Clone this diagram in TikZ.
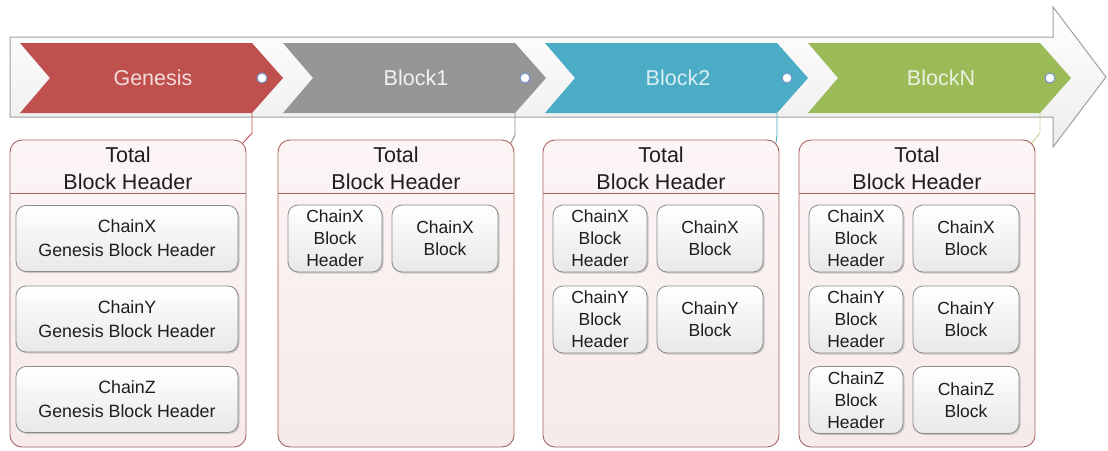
\documentclass[tikz,border=0pt]{standalone}
\usepackage{fontspec}
\setmainfont{Liberation Sans}
\usetikzlibrary{shadows}
\definecolor{cRed}{HTML}{C0504D}
\definecolor{cGray}{HTML}{969696}
\definecolor{cTeal}{HTML}{4BACC6}
\definecolor{cGreen}{HTML}{9BBB59}
\definecolor{tRed}{HTML}{F2DCDB}
\definecolor{tGray}{HTML}{F2F2F2}
\definecolor{tTeal}{HTML}{DAEEF3}
\definecolor{tGreen}{HTML}{EBF1DE}
\definecolor{lRed}{HTML}{C0504D}
\definecolor{lGray}{HTML}{8C8C8C}
\definecolor{lTeal}{HTML}{4BACC6}
\definecolor{lGreen}{HTML}{C3D69B}
\definecolor{boxline}{HTML}{A86464}
\definecolor{boxtop}{HTML}{FCF5F5}
\definecolor{boxbot}{HTML}{F6EAEA}
\definecolor{inline}{HTML}{8A8A8A}
\definecolor{txt}{HTML}{1E1E1E}
\definecolor{dotline}{HTML}{6F93C8}
\begin{document}
\begin{tikzpicture}[x=1pt,y=-1pt,
  bigarrow/.style={draw=gray!75, line width=1pt, top color=white, bottom color=gray!14},
  chevtext/.style={font=\fontsize{21.5}{25}\selectfont, inner sep=0pt},
  dotnode/.style={circle, minimum size=10pt, inner sep=0pt, fill=white, draw=dotline, line width=1pt},
  blockbox/.style={draw=boxline, line width=0.9pt, rounded corners=12pt, top color=boxtop, bottom color=boxbot,
    minimum width=236pt, minimum height=307pt, inner sep=0pt},
  headtext/.style={font=\fontsize{21.5}{27}\selectfont, text=txt, align=center, inner sep=0pt},
  chainbox/.style={draw=inline, line width=0.8pt, rounded corners=10pt, top color=white, bottom color=gray!18,
    drop shadow={shadow xshift=1.5pt, shadow yshift=-1.5pt, opacity=0.35},
    align=center, text=txt, inner sep=0pt, font=\fontsize{17.5}{22}\selectfont},
  genbox/.style={chainbox, minimum width=222pt, minimum height=66pt, font=\fontsize{17.8}{24}\selectfont},
  leftbox/.style={chainbox, minimum width=94pt, minimum height=67pt},
  rightbox/.style={chainbox, minimum width=106pt, minimum height=67pt},
  conn/.style={line width=0.9pt}
]
\useasboundingbox (0,0) rectangle (1108,450);
\fill[white] (0,0) rectangle (1108,450);

% big background arrow
\draw[bigarrow] (10,37) -- (1053,37) -- (1053,7) -- (1106,77) -- (1053,147) -- (1053,117) -- (10,117) -- cycle;

% chevrons
\foreach \n/\x/\col/\tcol/\lab in {g/20/cRed/tRed/Genesis, bA/283/cGray/tGray/Block1, bB/545/cTeal/tTeal/Block2, bN/808/cGreen/tGreen/BlockN}{
  \fill[\col] (\x,43) -- ++(232,0) -- ++(31,35) -- ++(-31,35) -- ++(-232,0) -- ++(30,-35) -- cycle;
  \node[chevtext, text=\tcol] (\n) at (\x+133,78) {\lab};
  \node[dotnode] (\n dot) at (\x+242,78) {};
  \coordinate (\n c) at (\x+232,113);
}

% block boxes
\foreach \n/\x in {g/10, bA/278, bB/543, bN/799}{
  \node[blockbox] (\n box) at (\x+118,293.5) {};
  \draw[boxline, line width=0.9pt] (\x,193) -- (\x+236,193);
  \node[headtext] (\n head) at (\x+118,168) {Total\\Block Header};
}

% connectors
\draw[conn, lRed] (gc) -- ++(0,20) -- ([shift={(-3.5,3.5)}]gbox.north east);
\draw[conn, lGray] (bAc) -- ++(0,22) -- ([shift={(-3.5,3.5)}]bAbox.north east);
\draw[conn, lTeal] (bBc) -- ++(0,22) -- ([shift={(-3.5,3.5)}]bBbox.north east);
\draw[conn, lGreen] (bNc) -- ++(0,20) -- ([shift={(-3.5,3.5)}]bNbox.north east);

% Genesis contents
\node[genbox] (gx) at (127,238.5) {ChainX\\Genesis Block Header};
\node[genbox] (gy) at (127,319) {ChainY\\Genesis Block Header};
\node[genbox] (gz) at (127,399.5) {ChainZ\\Genesis Block Header};

% Block1 contents
\node[leftbox]  (aXh) at (278+57,238.5) {ChainX\\Block\\Header};
\node[rightbox] (aXb) at (278+167,238.5) {ChainX\\Block};

% Block2 contents
\node[leftbox]  (bXh) at (543+57,238.5) {ChainX\\Block\\Header};
\node[rightbox] (bXb) at (543+167,238.5) {ChainX\\Block};
\node[leftbox]  (bYh) at (543+57,319.5) {ChainY\\Block\\Header};
\node[rightbox] (bYb) at (543+167,319.5) {ChainY\\Block};

% BlockN contents
\node[leftbox]  (nXh) at (799+57,238.5) {ChainX\\Block\\Header};
\node[rightbox] (nXb) at (799+167,238.5) {ChainX\\Block};
\node[leftbox]  (nYh) at (799+57,319.5) {ChainY\\Block\\Header};
\node[rightbox] (nYb) at (799+167,319.5) {ChainY\\Block};
\node[leftbox]  (nZh) at (799+57,400) {ChainZ\\Block\\Header};
\node[rightbox] (nZb) at (799+167,400) {ChainZ\\Block};
\end{tikzpicture}
\end{document}
